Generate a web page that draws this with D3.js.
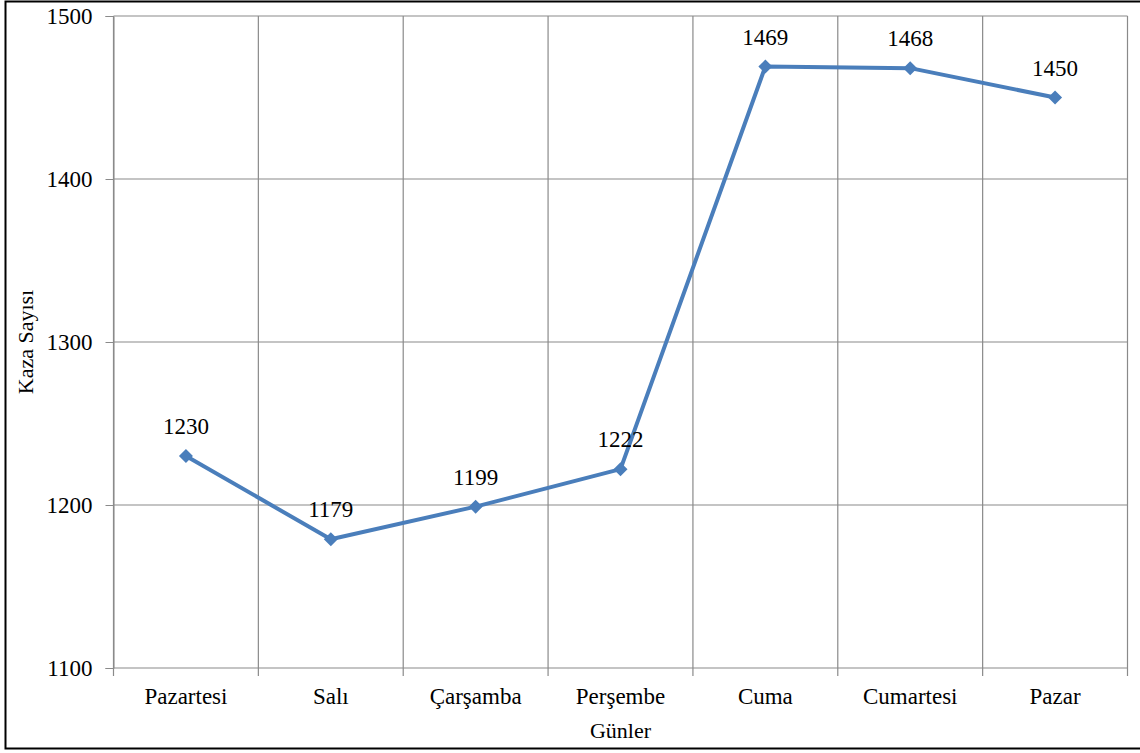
<!DOCTYPE html>
<html>
<head>
<meta charset="utf-8">
<script src="https://cdn.jsdelivr.net/npm/d3@7"></script>
<style>
  html, body { margin: 0; padding: 0; background: #fff; }
  svg { display: block; }
  text { font-family: "Liberation Serif", "Times New Roman", serif; fill: #000; }
</style>
</head>
<body>
<svg id="chart" width="1140" height="753"></svg>
<script>
// Weekly accident counts by day
const days = ["Pazartesi", "Salı", "Çarşamba", "Perşembe", "Cuma", "Cumartesi", "Pazar"];
const accidents = [1230, 1179, 1199, 1222, 1469, 1468, 1450];
const yTicks = [1100, 1200, 1300, 1400, 1500];
const yTitle = "Kaza Sayısı";
const xTitle = "Günler";

const svg = d3.select("#chart");
const plot = { left: 113.5, right: 1127.5, top: 16, bottom: 668 };
const serif = "'Liberation Serif', 'Times New Roman', serif";

// outer frame
svg.append("rect")
  .attr("x", 5.5).attr("y", 1.5)
  .attr("width", 1145).attr("height", 747)
  .attr("fill", "none").attr("stroke", "#000").attr("stroke-width", 2);

const x = d3.scaleBand().domain(days).range([plot.left, plot.right]).padding(0);
const y = d3.scaleLinear().domain([1100, 1500]).range([plot.bottom, plot.top]);

const grid = "#8a8a8a";

// horizontal gridlines + y axis labels
const yAxis = d3.axisLeft(y).tickValues(yTicks).tickSize(8).tickPadding(13).tickFormat(d3.format("d"));
const gy = svg.append("g").attr("transform", `translate(${plot.left},0)`).call(yAxis);
gy.select(".domain").attr("stroke", grid);
gy.selectAll(".tick line").attr("stroke", grid);
gy.selectAll(".tick text").style("font-size", "23px").attr("fill", "#000")
  .style("font-family", serif);

svg.append("g").selectAll("line").data(yTicks).join("line")
  .attr("x1", plot.left).attr("x2", plot.right)
  .attr("y1", d => y(d)).attr("y2", d => y(d))
  .attr("stroke", grid).attr("stroke-width", 1.2);

// vertical gridlines at category boundaries, extending into tick marks
const bounds = days.map(d => x(d)).concat([x(days[days.length - 1]) + x.bandwidth()]);
svg.append("g").selectAll("line").data(bounds).join("line")
  .attr("x1", d => d).attr("x2", d => d)
  .attr("y1", plot.top).attr("y2", plot.bottom + 8)
  .attr("stroke", grid).attr("stroke-width", 1.2);

// x axis category labels
const xAxis = d3.axisBottom(x).tickSize(0).tickPadding(20);
const gx = svg.append("g").attr("transform", `translate(0,${plot.bottom})`).call(xAxis);
gx.select(".domain").remove();
gx.selectAll(".tick text").style("font-size", "23px").attr("fill", "#000")
  .style("font-family", serif);

// axis titles
svg.append("text")
  .attr("transform", `translate(33,${(plot.top + plot.bottom) / 2}) rotate(-90)`)
  .attr("text-anchor", "middle")
  .style("font-size", "22px")
  .text(yTitle);

svg.append("text")
  .attr("x", (plot.left + plot.right) / 2).attr("y", 738)
  .attr("text-anchor", "middle")
  .style("font-size", "22px")
  .text(xTitle);

// series line
const pts = days.map((d, i) => ({ day: d, v: accidents[i] }));
const cx = d => x(d.day) + x.bandwidth() / 2;

svg.append("path")
  .datum(pts)
  .attr("fill", "none")
  .attr("stroke", "#4A7EBB")
  .attr("stroke-width", 4)
  .attr("stroke-linejoin", "round")
  .attr("d", d3.line().x(cx).y(d => y(d.v)));

// diamond markers
const diamond = "M0,-7L7,0L0,7L-7,0Z";
svg.append("g").selectAll("path").data(pts).join("path")
  .attr("transform", d => `translate(${cx(d)},${y(d.v)})`)
  .attr("d", diamond)
  .attr("fill", "#4A7EBB");

// value labels
svg.append("g").selectAll("text").data(pts).join("text")
  .attr("x", cx)
  .attr("y", d => y(d.v) - 22)
  .attr("text-anchor", "middle")
  .style("font-size", "23px")
  .text(d => d.v);
</script>
</body>
</html>
